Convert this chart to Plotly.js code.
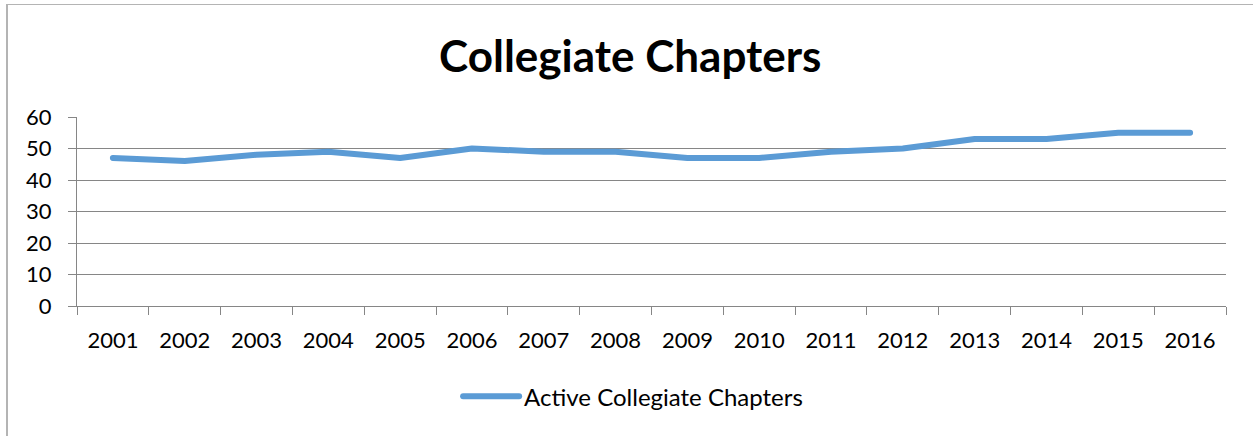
<!DOCTYPE html>
<html>
<head>
<meta charset="utf-8">
<script src="https://cdn.plot.ly/plotly-3.0.1.min.js"></script>
<style>
html,body{margin:0;padding:0;background:#fff;}
#frame{position:absolute;left:6px;top:4px;width:1247px;height:432px;border-left:2px solid #b4b4b4;border-top:1px solid #b4b4b4;box-sizing:border-box;}
#chart{position:absolute;left:0;top:0;width:1253px;height:436px;}
#chart path.js-line{stroke-linecap:round;stroke-linejoin:round;}
</style>
</head>
<body>
<div id="frame"></div>
<div id="chart"></div>
<script>
const years = ["2001","2002","2003","2004","2005","2006","2007","2008","2009","2010","2011","2012","2013","2014","2015","2016"];
const chapters = [47,46,48,49,47,50,49,49,47,47,49,50,53,53,55,55];
const seriesName = "Active Collegiate Chapters";
const titleText = "Collegiate Chapters";
const yTicks = [0,10,20,30,40,50,60];

const font = "Lato, Calibri, 'Open Sans', sans-serif";
const trace = {
  x: years, y: chapters, type: "scatter", mode: "lines", name: seriesName,
  line: {color: "#5B9BD5", width: 6}
};
const layout = {
  width: 1253, height: 436,
  paper_bgcolor: "rgba(0,0,0,0)", plot_bgcolor: "rgba(0,0,0,0)",
  margin: {l: 77, r: 27, t: 117, b: 130},
  font: {family: font, color: "#000", size: 22},
  title: {text: "<b>" + titleText + "</b>", font: {family: font, size: 44, color: "#000"}, x: 0.503, xanchor: "center", y: 0.87, yanchor: "middle"},
  xaxis: {
    type: "category", range: [-0.5, years.length - 0.5], tickson: "boundaries", ticks: "outside", ticklen: 8, tickcolor: "#868686",
    showline: true, linecolor: "#868686", linewidth: 1, showgrid: false, zeroline: false,
    tickfont: {size: 22, family: font}, ticklabelstandoff: 15, fixedrange: true
  },
  yaxis: {
    range: [0, 60], tickvals: yTicks, ticks: "outside", ticklen: 8, tickcolor: "#868686",
    showline: true, linecolor: "#868686", showgrid: true, gridcolor: "#868686", gridwidth: 1,
    zeroline: false, tickfont: {size: 22, family: font}, ticklabelstandoff: 12, fixedrange: true
  },
  showlegend: true,
  legend: {orientation: "h", x: 0.484, xanchor: "center", y: -0.48, yanchor: "middle", itemwidth: 56, font: {size: 24, family: font}},
};
Plotly.newPlot("chart", [trace], layout, {displayModeBar: false, staticPlot: true});
</script>
</body>
</html>
